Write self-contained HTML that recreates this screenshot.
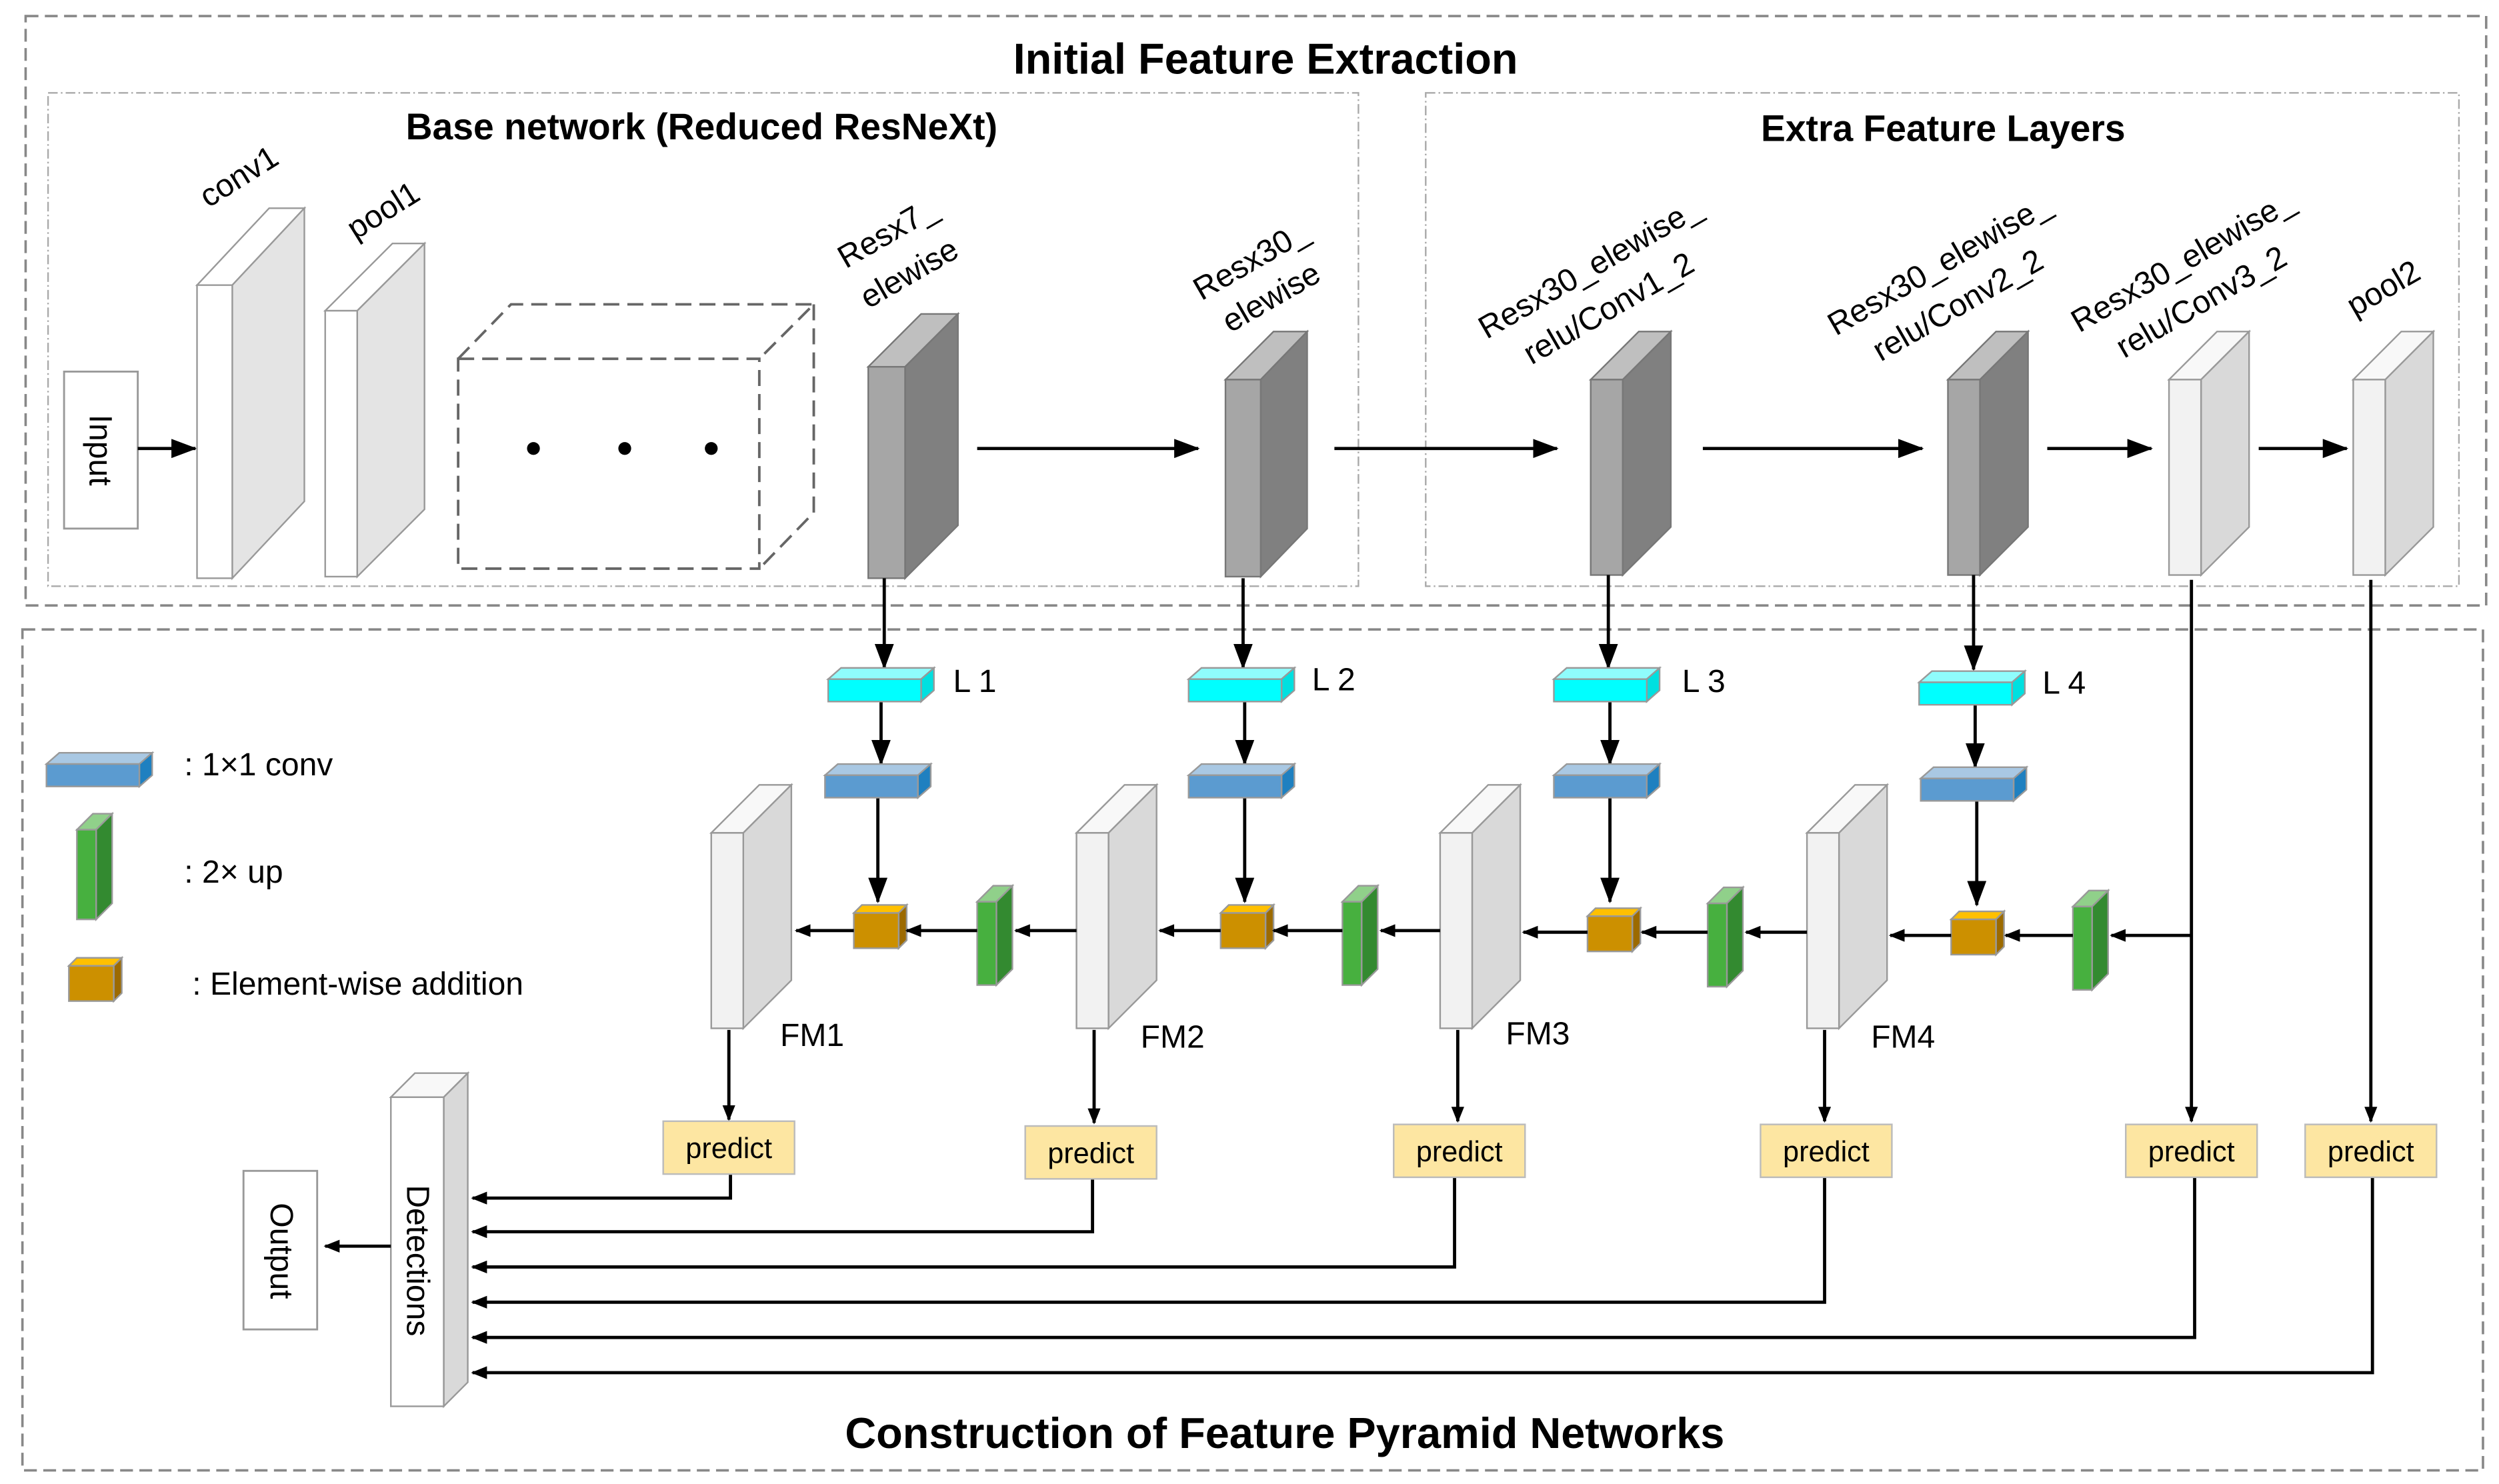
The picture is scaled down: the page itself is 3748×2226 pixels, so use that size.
<!DOCTYPE html>
<html><head><meta charset="utf-8"><style>
html,body{margin:0;padding:0;background:#fff}
svg{display:block}
text{font-family:"Liberation Sans",sans-serif;fill:#000}
</style></head><body>
<svg width="3748" height="2226" viewBox="0 0 1560 926.5" preserveAspectRatio="none" xmlns="http://www.w3.org/2000/svg">
<defs>
<marker id="a" markerWidth="10" markerHeight="8" refX="9" refY="4" orient="auto" markerUnits="userSpaceOnUse"><path d="M0,0 L10,4 L0,8 z" fill="#000"/></marker>
<marker id="b" markerWidth="16" markerHeight="12" refX="15" refY="6" orient="auto" markerUnits="userSpaceOnUse"><path d="M0,0 L16,6 L0,12 z" fill="#000"/></marker>
</defs>
<rect width="1560" height="926.5" fill="#fff"/>
<rect x="16" y="10" width="1536" height="368" fill="none" stroke="#888" stroke-width="1.5" stroke-dasharray="8,4"/>
<rect x="14" y="393" width="1536" height="525" fill="none" stroke="#888" stroke-width="1.5" stroke-dasharray="8,4"/>
<rect x="30" y="58" width="818" height="308" fill="none" stroke="#aaa" stroke-width="1" stroke-dasharray="6,2,1,2"/>
<rect x="890" y="58" width="645" height="308" fill="none" stroke="#aaa" stroke-width="1" stroke-dasharray="6,2,1,2"/>
<text x="790" y="46" font-size="27" font-weight="bold" text-anchor="middle">Initial Feature Extraction</text>
<text x="438" y="87" font-size="23" font-weight="bold" text-anchor="middle">Base network (Reduced ResNeXt)</text>
<text x="1213" y="88" font-size="23" font-weight="bold" text-anchor="middle">Extra Feature Layers</text>
<text x="802" y="904" font-size="27" font-weight="bold" text-anchor="middle">Construction of Feature Pyramid Networks</text>

<rect x="40" y="232" width="46" height="98" fill="#fff" stroke="#999" stroke-width="1.2"/>
<text transform="translate(56,281) rotate(90)" font-size="20" text-anchor="middle">Input</text>
<line x1="86" y1="280" x2="122" y2="280" stroke="#000" stroke-width="2" marker-end="url(#b)"/>

<g stroke="#999" stroke-width="1">
<path d="M123,178 L168,130 L190,130 L145,178z" fill="#fff"/>
<path d="M145,178 L190,130 L190,313 L145,361z" fill="#e4e4e4"/>
<rect x="123" y="178" width="22" height="183" fill="#fff"/>
<path d="M203,194 L245,152 L265,152 L223,194z" fill="#fff"/>
<path d="M223,194 L265,152 L265,318 L223,360z" fill="#e4e4e4"/>
<rect x="203" y="194" width="20" height="166" fill="#fff"/>
</g>
<text transform="translate(130,130) rotate(-32)" font-size="20">conv1</text>
<text transform="translate(222,150) rotate(-32)" font-size="20">pool1</text>

<g fill="none" stroke="#666" stroke-width="1.6" stroke-dasharray="10,5">
<rect x="286" y="224" width="188" height="131"/>
<path d="M286,224 L319,190 L508,190 L474,224 M508,190 L508,320 L474,355"/>
</g>
<circle cx="333" cy="280" r="4" fill="#000"/><circle cx="390" cy="280" r="4" fill="#000"/><circle cx="444" cy="280" r="4" fill="#000"/>

<g stroke="#777" stroke-width="1">
<path d="M542,229 L575,196 L598,196 L565,229z" fill="#bfbfbf"/>
<path d="M565,229 L598,196 L598,328 L565,361z" fill="#808080"/>
<rect x="542" y="229" width="23" height="132" fill="#a6a6a6"/>
<path d="M765,237 L795,207 L816,207 L787,237z" fill="#bfbfbf"/>
<path d="M787,237 L816,207 L816,330 L787,360z" fill="#808080"/>
<rect x="765" y="237" width="22" height="123" fill="#a6a6a6"/>
<path d="M993,237 L1023,207 L1043,207 L1013,237z" fill="#bfbfbf"/>
<path d="M1013,237 L1043,207 L1043,329 L1013,359z" fill="#808080"/>
<rect x="993" y="237" width="20" height="122" fill="#a6a6a6"/>
<path d="M1216,237 L1246,207 L1266,207 L1236,237z" fill="#bfbfbf"/>
<path d="M1236,237 L1266,207 L1266,329 L1236,359z" fill="#808080"/>
<rect x="1216" y="237" width="20" height="122" fill="#a6a6a6"/>
</g>
<g stroke="#999" stroke-width="1">
<path d="M1354,237 L1384,207 L1404,207 L1374,237z" fill="#f8f8f8"/>
<path d="M1374,237 L1404,207 L1404,329 L1374,359z" fill="#d9d9d9"/>
<rect x="1354" y="237" width="20" height="122" fill="#f2f2f2"/>
<path d="M1469,237 L1499,207 L1519,207 L1489,237z" fill="#f8f8f8"/>
<path d="M1489,237 L1519,207 L1519,329 L1489,359z" fill="#d9d9d9"/>
<rect x="1469" y="237" width="20" height="122" fill="#f2f2f2"/>
</g>
<g font-size="20">
<text transform="translate(528,168) rotate(-30)">Resx7_</text>
<text transform="translate(542,193) rotate(-30)">elewise</text>
<text transform="translate(750,188) rotate(-30)">Resx30_</text>
<text transform="translate(768,208) rotate(-30)">elewise</text>
<text transform="translate(928,212) rotate(-30)">Resx30_elewise_</text>
<text transform="translate(956,228) rotate(-30)">relu/Conv1_2</text>
<text transform="translate(1146,210) rotate(-30)">Resx30_elewise_</text>
<text transform="translate(1174,226) rotate(-30)">relu/Conv2_2</text>
<text transform="translate(1298,208) rotate(-30)">Resx30_elewise_</text>
<text transform="translate(1326,224) rotate(-30)">relu/Conv3_2</text>
<text transform="translate(1470,198) rotate(-30)">pool2</text>
</g>
<g stroke="#000" stroke-width="2">
<line x1="610" y1="280" x2="748" y2="280" marker-end="url(#b)"/>
<line x1="833" y1="280" x2="972" y2="280" marker-end="url(#b)"/>
<line x1="1063" y1="280" x2="1200" y2="280" marker-end="url(#b)"/>
<line x1="1278" y1="280" x2="1343" y2="280" marker-end="url(#b)"/>
<line x1="1410" y1="280" x2="1465" y2="280" marker-end="url(#b)"/>
</g>

<g stroke="#000" stroke-width="2">
<line x1="552" y1="361" x2="552" y2="417" marker-end="url(#b)"/>
<line x1="776" y1="361" x2="776" y2="417" marker-end="url(#b)"/>
<line x1="1004" y1="359" x2="1004" y2="417" marker-end="url(#b)"/>
<line x1="1232" y1="359" x2="1232" y2="418" marker-end="url(#b)"/>
<line x1="550" y1="438" x2="550" y2="477" marker-end="url(#b)"/>
<line x1="777" y1="438" x2="777" y2="477" marker-end="url(#b)"/>
<line x1="1005" y1="438" x2="1005" y2="477" marker-end="url(#b)"/>
<line x1="1233" y1="440" x2="1233" y2="479" marker-end="url(#b)"/>
<line x1="548" y1="498" x2="548" y2="563" marker-end="url(#b)"/>
<line x1="777" y1="498" x2="777" y2="563" marker-end="url(#b)"/>
<line x1="1005" y1="498" x2="1005" y2="563" marker-end="url(#b)"/>
<line x1="1234" y1="500" x2="1234" y2="565" marker-end="url(#b)"/>
</g>
<g stroke="#999" stroke-width="1">
<path d="M517,424 L525,417 L583,417 L575,424z" fill="#8ffcfc"/><path d="M575,424 L583,417 L583,431 L575,438z" fill="#00e0e0"/><rect x="517" y="424" width="58" height="14" fill="#00ffff"/>
<path d="M742,424 L750,417 L808,417 L800,424z" fill="#8ffcfc"/><path d="M800,424 L808,417 L808,431 L800,438z" fill="#00e0e0"/><rect x="742" y="424" width="58" height="14" fill="#00ffff"/>
<path d="M970,424 L978,417 L1036,417 L1028,424z" fill="#8ffcfc"/><path d="M1028,424 L1036,417 L1036,431 L1028,438z" fill="#00e0e0"/><rect x="970" y="424" width="58" height="14" fill="#00ffff"/>
<path d="M1198,426 L1206,419 L1264,419 L1256,426z" fill="#8ffcfc"/><path d="M1256,426 L1264,419 L1264,433 L1256,440z" fill="#00e0e0"/><rect x="1198" y="426" width="58" height="14" fill="#00ffff"/>
<path d="M515,484 L523,477 L581,477 L573,484z" fill="#a9c8e3"/><path d="M573,484 L581,477 L581,491 L573,498z" fill="#1f80c0"/><rect x="515" y="484" width="58" height="14" fill="#5b9bd0"/>
<path d="M742,484 L750,477 L808,477 L800,484z" fill="#a9c8e3"/><path d="M800,484 L808,477 L808,491 L800,498z" fill="#1f80c0"/><rect x="742" y="484" width="58" height="14" fill="#5b9bd0"/>
<path d="M970,484 L978,477 L1036,477 L1028,484z" fill="#a9c8e3"/><path d="M1028,484 L1036,477 L1036,491 L1028,498z" fill="#1f80c0"/><rect x="970" y="484" width="58" height="14" fill="#5b9bd0"/>
<path d="M1199,486 L1207,479 L1265,479 L1257,486z" fill="#a9c8e3"/><path d="M1257,486 L1265,479 L1265,493 L1257,500z" fill="#1f80c0"/><rect x="1199" y="486" width="58" height="14" fill="#5b9bd0"/>
<path d="M29,477 L37,470 L95,470 L87,477z" fill="#a9c8e3"/><path d="M87,477 L95,470 L95,484 L87,491z" fill="#1f80c0"/><rect x="29" y="477" width="58" height="14" fill="#5b9bd0"/>
<path d="M533,570 L538,565 L566,565 L561,570z" fill="#ffc000"/><path d="M561,570 L566,565 L566,587 L561,592z" fill="#9c6a00"/><rect x="533" y="570" width="28" height="22" fill="#cc9000"/>
<path d="M762,570 L767,565 L795,565 L790,570z" fill="#ffc000"/><path d="M790,570 L795,565 L795,587 L790,592z" fill="#9c6a00"/><rect x="762" y="570" width="28" height="22" fill="#cc9000"/>
<path d="M991,572 L996,567 L1024,567 L1019,572z" fill="#ffc000"/><path d="M1019,572 L1024,567 L1024,589 L1019,594z" fill="#9c6a00"/><rect x="991" y="572" width="28" height="22" fill="#cc9000"/>
<path d="M1218,574 L1223,569 L1251,569 L1246,574z" fill="#ffc000"/><path d="M1246,574 L1251,569 L1251,591 L1246,596z" fill="#9c6a00"/><rect x="1218" y="574" width="28" height="22" fill="#cc9000"/>
<path d="M43,603 L48,598 L76,598 L71,603z" fill="#ffc000"/><path d="M71,603 L76,598 L76,620 L71,625z" fill="#9c6a00"/><rect x="43" y="603" width="28" height="22" fill="#cc9000"/>
<path d="M610,563 L620,553 L632,553 L622,563z" fill="#90d08a"/><path d="M622,563 L632,553 L632,605 L622,615z" fill="#338a30"/><rect x="610" y="563" width="12" height="52" fill="#47b03f"/>
<path d="M838,563 L848,553 L860,553 L850,563z" fill="#90d08a"/><path d="M850,563 L860,553 L860,605 L850,615z" fill="#338a30"/><rect x="838" y="563" width="12" height="52" fill="#47b03f"/>
<path d="M1066,564 L1076,554 L1088,554 L1078,564z" fill="#90d08a"/><path d="M1078,564 L1088,554 L1088,606 L1078,616z" fill="#338a30"/><rect x="1066" y="564" width="12" height="52" fill="#47b03f"/>
<path d="M1294,566 L1304,556 L1316,556 L1306,566z" fill="#90d08a"/><path d="M1306,566 L1316,556 L1316,608 L1306,618z" fill="#338a30"/><rect x="1294" y="566" width="12" height="52" fill="#47b03f"/>
<path d="M48,518 L58,508 L70,508 L60,518z" fill="#90d08a"/><path d="M60,518 L70,508 L70,564 L60,574z" fill="#338a30"/><rect x="48" y="518" width="12" height="56" fill="#47b03f"/>
<path d="M444,520 L474,490 L494,490 L464,520z" fill="#f8f8f8"/><path d="M464,520 L494,490 L494,612 L464,642z" fill="#d9d9d9"/><rect x="444" y="520" width="20" height="122" fill="#f2f2f2"/>
<path d="M672,520 L702,490 L722,490 L692,520z" fill="#f8f8f8"/><path d="M692,520 L722,490 L722,612 L692,642z" fill="#d9d9d9"/><rect x="672" y="520" width="20" height="122" fill="#f2f2f2"/>
<path d="M899,520 L929,490 L949,490 L919,520z" fill="#f8f8f8"/><path d="M919,520 L949,490 L949,612 L919,642z" fill="#d9d9d9"/><rect x="899" y="520" width="20" height="122" fill="#f2f2f2"/>
<path d="M1128,520 L1158,490 L1178,490 L1148,520z" fill="#f8f8f8"/><path d="M1148,520 L1178,490 L1178,612 L1148,642z" fill="#d9d9d9"/><rect x="1128" y="520" width="20" height="122" fill="#f2f2f2"/>
<path d="M244,685 L259,670 L292,670 L277,685z" fill="#f8f8f8"/><path d="M277,685 L292,670 L292,863 L277,878z" fill="#d9d9d9"/><rect x="244" y="685" width="33" height="193" fill="#fff"/>
</g>
<g font-size="20">
<text x="595" y="432">L 1</text><text x="819" y="431">L 2</text><text x="1050" y="432">L 3</text><text x="1275" y="433">L 4</text>
<text x="487" y="653">FM1</text><text x="712" y="654">FM2</text><text x="940" y="652">FM3</text><text x="1168" y="654">FM4</text>
<text x="115" y="484">: 1×1 conv</text>
<text x="115" y="551">: 2× up</text>
<text x="120" y="621">: Element-wise addition</text>
</g>
<g stroke="#000" stroke-width="2">
<line x1="533" y1="581" x2="497" y2="581" marker-end="url(#a)"/>
<line x1="610" y1="581" x2="566" y2="581" marker-end="url(#a)"/>
<line x1="672" y1="581" x2="634" y2="581" marker-end="url(#a)"/>
<line x1="762" y1="581" x2="724" y2="581" marker-end="url(#a)"/>
<line x1="838" y1="581" x2="795" y2="581" marker-end="url(#a)"/>
<line x1="899" y1="581" x2="862" y2="581" marker-end="url(#a)"/>
<line x1="991" y1="582" x2="951" y2="582" marker-end="url(#a)"/>
<line x1="1066" y1="582" x2="1025" y2="582" marker-end="url(#a)"/>
<line x1="1128" y1="582" x2="1090" y2="582" marker-end="url(#a)"/>
<line x1="1218" y1="584" x2="1180" y2="584" marker-end="url(#a)"/>
<line x1="1294" y1="584" x2="1252" y2="584" marker-end="url(#a)"/>
<line x1="1368" y1="584" x2="1318" y2="584" marker-end="url(#a)"/>
<line x1="455" y1="643" x2="455" y2="699" marker-end="url(#a)"/>
<line x1="683" y1="643" x2="683" y2="701" marker-end="url(#a)"/>
<line x1="910" y1="643" x2="910" y2="700" marker-end="url(#a)"/>
<line x1="1139" y1="643" x2="1139" y2="700" marker-end="url(#a)"/>
<line x1="1368" y1="362" x2="1368" y2="700" marker-end="url(#a)"/>
<line x1="1480" y1="362" x2="1480" y2="700" marker-end="url(#a)"/>
</g>
<g fill="none" stroke="#000" stroke-width="2">
<path d="M456,733 L456,748 L295,748" marker-end="url(#a)"/>
<path d="M682,736 L682,769 L295,769" marker-end="url(#a)"/>
<path d="M908,735 L908,791 L295,791" marker-end="url(#a)"/>
<path d="M1139,735 L1139,813 L295,813" marker-end="url(#a)"/>
<path d="M1370,735 L1370,835 L295,835" marker-end="url(#a)"/>
<path d="M1481,735 L1481,857 L295,857" marker-end="url(#a)"/>
<line x1="244" y1="778" x2="203" y2="778" marker-end="url(#a)"/>
</g>
<g stroke="#bbb" stroke-width="1" fill="#fde6a2">
<rect x="414" y="700" width="82" height="33"/>
<rect x="640" y="703" width="82" height="33"/>
<rect x="870" y="702" width="82" height="33"/>
<rect x="1099" y="702" width="82" height="33"/>
<rect x="1327" y="702" width="82" height="33"/>
<rect x="1439" y="702" width="82" height="33"/>
</g>
<g font-size="18" text-anchor="middle">
<text x="455" y="723">predict</text><text x="681" y="726">predict</text><text x="911" y="725">predict</text>
<text x="1140" y="725">predict</text><text x="1368" y="725">predict</text><text x="1480" y="725">predict</text>
</g>
<text transform="translate(254,787) rotate(90)" font-size="20" text-anchor="middle">Detections</text>
<rect x="152" y="731" width="46" height="99" fill="#fff" stroke="#999" stroke-width="1.2"/>
<text transform="translate(169,781) rotate(90)" font-size="20" text-anchor="middle">Output</text>
</svg>
</body></html>
